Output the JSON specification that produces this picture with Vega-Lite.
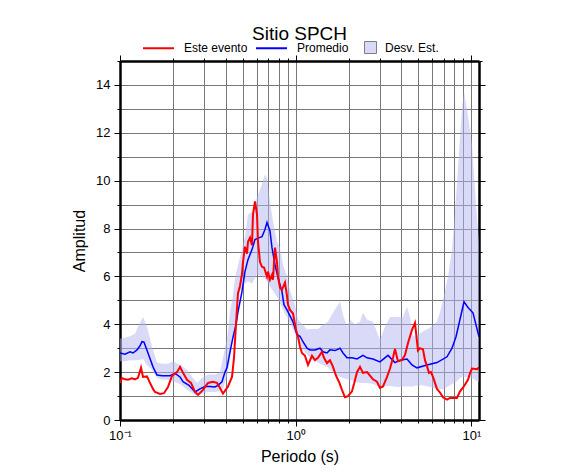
{
  "$schema": "https://vega.github.io/schema/vega-lite/v6.json",
  "width": 359,
  "height": 359,
  "autosize": {"type": "none"},
  "padding": {"left": 120, "top": 61, "right": 107, "bottom": 55},
  "background": "white",
  "title": {"text": "Sitio SPCH", "fontSize": 19, "fontWeight": "normal", "font": "Liberation Sans", "color": "black", "anchor": "middle", "baseline": "alphabetic", "offset": 14, "dy": 41},
  "datasets": {
    "evento": [
      {"periodo": 0.1, "amp": 1.55}, {"periodo": 0.1026, "amp": 1.75}, {"periodo": 0.1068, "amp": 1.7}, {"periodo": 0.111, "amp": 1.68},
      {"periodo": 0.117, "amp": 1.74}, {"periodo": 0.1217, "amp": 1.7}, {"periodo": 0.1266, "amp": 1.76}, {"periodo": 0.1317, "amp": 2.18},
      {"periodo": 0.1352, "amp": 1.8}, {"periodo": 0.1424, "amp": 1.82}, {"periodo": 0.1482, "amp": 1.55}, {"periodo": 0.1541, "amp": 1.3},
      {"periodo": 0.1582, "amp": 1.17}, {"periodo": 0.1689, "amp": 1.09}, {"periodo": 0.1779, "amp": 1.12}, {"periodo": 0.1875, "amp": 1.38},
      {"periodo": 0.1977, "amp": 1.84}, {"periodo": 0.2111, "amp": 2.0}, {"periodo": 0.2196, "amp": 2.22}, {"periodo": 0.2284, "amp": 1.97},
      {"periodo": 0.2406, "amp": 1.68}, {"periodo": 0.2535, "amp": 1.55}, {"periodo": 0.2673, "amp": 1.17}, {"periodo": 0.278, "amp": 1.05},
      {"periodo": 0.2968, "amp": 1.26}, {"periodo": 0.3168, "amp": 1.55}, {"periodo": 0.3382, "amp": 1.6}, {"periodo": 0.3564, "amp": 1.55},
      {"periodo": 0.3708, "amp": 1.34}, {"periodo": 0.3856, "amp": 1.1}, {"periodo": 0.4118, "amp": 1.4}, {"periodo": 0.434, "amp": 1.8},
      {"periodo": 0.4455, "amp": 2.6}, {"periodo": 0.4573, "amp": 4.0}, {"periodo": 0.4695, "amp": 5.3}, {"periodo": 0.4819, "amp": 5.6},
      {"periodo": 0.4947, "amp": 6.1}, {"periodo": 0.5012, "amp": 6.6}, {"periodo": 0.5145, "amp": 7.24}, {"periodo": 0.5282, "amp": 6.95},
      {"periodo": 0.5352, "amp": 7.45}, {"periodo": 0.5494, "amp": 7.62}, {"periodo": 0.564, "amp": 7.3}, {"periodo": 0.5714, "amp": 8.58},
      {"periodo": 0.5866, "amp": 9.13}, {"periodo": 0.6022, "amp": 8.6}, {"periodo": 0.6101, "amp": 7.45}, {"periodo": 0.6263, "amp": 6.6},
      {"periodo": 0.6429, "amp": 6.4}, {"periodo": 0.66, "amp": 6.37}, {"periodo": 0.6865, "amp": 5.99}, {"periodo": 0.6955, "amp": 6.2},
      {"periodo": 0.714, "amp": 5.86}, {"periodo": 0.7329, "amp": 6.06}, {"periodo": 0.7426, "amp": 5.86}, {"periodo": 0.7623, "amp": 7.2},
      {"periodo": 0.7825, "amp": 6.6}, {"periodo": 0.7929, "amp": 6.0}, {"periodo": 0.8139, "amp": 5.53}, {"periodo": 0.8355, "amp": 5.45},
      {"periodo": 0.869, "amp": 5.74}, {"periodo": 0.8921, "amp": 5.2}, {"periodo": 0.9039, "amp": 4.82}, {"periodo": 0.9281, "amp": 4.6},
      {"periodo": 0.9652, "amp": 4.45}, {"periodo": 1.004, "amp": 3.77}, {"periodo": 1.031, "amp": 3.48}, {"periodo": 1.058, "amp": 3.06},
      {"periodo": 1.086, "amp": 2.8}, {"periodo": 1.13, "amp": 2.68}, {"periodo": 1.175, "amp": 2.3}, {"periodo": 1.238, "amp": 2.68},
      {"periodo": 1.288, "amp": 2.5}, {"periodo": 1.339, "amp": 2.6}, {"periodo": 1.411, "amp": 2.85}, {"periodo": 1.449, "amp": 2.6},
      {"periodo": 1.507, "amp": 2.38}, {"periodo": 1.567, "amp": 2.5}, {"periodo": 1.631, "amp": 2.22}, {"periodo": 1.696, "amp": 1.85},
      {"periodo": 1.763, "amp": 1.6}, {"periodo": 1.834, "amp": 1.26}, {"periodo": 1.908, "amp": 0.95}, {"periodo": 1.985, "amp": 1.0},
      {"periodo": 2.091, "amp": 1.2}, {"periodo": 2.147, "amp": 1.5}, {"periodo": 2.233, "amp": 2.0}, {"periodo": 2.323, "amp": 2.22},
      {"periodo": 2.416, "amp": 1.97}, {"periodo": 2.546, "amp": 2.0}, {"periodo": 2.648, "amp": 1.85}, {"periodo": 2.754, "amp": 1.7},
      {"periodo": 2.902, "amp": 1.6}, {"periodo": 3.018, "amp": 1.34}, {"periodo": 3.14, "amp": 1.4}, {"periodo": 3.31, "amp": 1.8},
      {"periodo": 3.442, "amp": 2.15}, {"periodo": 3.58, "amp": 2.6}, {"periodo": 3.675, "amp": 2.97}, {"periodo": 3.822, "amp": 2.45},
      {"periodo": 4.027, "amp": 2.5}, {"periodo": 4.19, "amp": 2.72}, {"periodo": 4.358, "amp": 3.22}, {"periodo": 4.592, "amp": 3.77},
      {"periodo": 4.775, "amp": 4.06}, {"periodo": 4.902, "amp": 3.3}, {"periodo": 4.966, "amp": 2.9}, {"periodo": 5.098, "amp": 3.0},
      {"periodo": 5.303, "amp": 2.95}, {"periodo": 5.443, "amp": 2.5}, {"periodo": 5.588, "amp": 2.25}, {"periodo": 5.736, "amp": 1.97},
      {"periodo": 5.889, "amp": 2.0}, {"periodo": 6.045, "amp": 1.8}, {"periodo": 6.372, "amp": 1.3}, {"periodo": 6.627, "amp": 1.15},
      {"periodo": 6.893, "amp": 0.95}, {"periodo": 7.264, "amp": 0.85}, {"periodo": 7.555, "amp": 0.92}, {"periodo": 7.858, "amp": 0.92},
      {"periodo": 8.279, "amp": 0.92}, {"periodo": 8.611, "amp": 1.2}, {"periodo": 8.959, "amp": 1.35}, {"periodo": 9.566, "amp": 1.68},
      {"periodo": 9.818, "amp": 1.95}, {"periodo": 10.08, "amp": 2.15}, {"periodo": 10.76, "amp": 2.12}, {"periodo": 11.05, "amp": 2.2}
    ],
    "promedio": [
      {"periodo": 0.1, "amp": 2.8}, {"periodo": 0.1068, "amp": 2.75}, {"periodo": 0.114, "amp": 2.85}, {"periodo": 0.1186, "amp": 2.8},
      {"periodo": 0.125, "amp": 2.93}, {"periodo": 0.13, "amp": 3.1}, {"periodo": 0.1334, "amp": 3.27}, {"periodo": 0.137, "amp": 3.25},
      {"periodo": 0.1443, "amp": 2.8}, {"periodo": 0.1541, "amp": 2.22}, {"periodo": 0.1624, "amp": 1.88}, {"periodo": 0.1734, "amp": 1.85},
      {"periodo": 0.1926, "amp": 1.85}, {"periodo": 0.2056, "amp": 1.95}, {"periodo": 0.2196, "amp": 1.8}, {"periodo": 0.2284, "amp": 1.6},
      {"periodo": 0.247, "amp": 1.45}, {"periodo": 0.2673, "amp": 1.17}, {"periodo": 0.2853, "amp": 1.3}, {"periodo": 0.3046, "amp": 1.4},
      {"periodo": 0.3252, "amp": 1.4}, {"periodo": 0.3472, "amp": 1.38}, {"periodo": 0.3612, "amp": 1.45}, {"periodo": 0.3806, "amp": 1.6},
      {"periodo": 0.3959, "amp": 2.0}, {"periodo": 0.4064, "amp": 2.18}, {"periodo": 0.4227, "amp": 2.85}, {"periodo": 0.4396, "amp": 3.45},
      {"periodo": 0.4573, "amp": 3.98}, {"periodo": 0.4695, "amp": 4.52}, {"periodo": 0.4947, "amp": 5.36}, {"periodo": 0.5145, "amp": 6.2},
      {"periodo": 0.5352, "amp": 6.7}, {"periodo": 0.564, "amp": 7.12}, {"periodo": 0.5866, "amp": 7.54}, {"periodo": 0.6101, "amp": 7.6},
      {"periodo": 0.6429, "amp": 7.66}, {"periodo": 0.6687, "amp": 7.96}, {"periodo": 0.6865, "amp": 8.25}, {"periodo": 0.714, "amp": 7.9},
      {"periodo": 0.7329, "amp": 7.2}, {"periodo": 0.7623, "amp": 6.49}, {"periodo": 0.7929, "amp": 5.95}, {"periodo": 0.8355, "amp": 5.36},
      {"periodo": 0.8577, "amp": 4.82}, {"periodo": 0.8921, "amp": 4.6}, {"periodo": 0.9281, "amp": 4.35}, {"periodo": 0.9652, "amp": 4.1},
      {"periodo": 1.017, "amp": 3.56}, {"periodo": 1.058, "amp": 3.5}, {"periodo": 1.1, "amp": 3.27}, {"periodo": 1.16, "amp": 3.0},
      {"periodo": 1.206, "amp": 2.93}, {"periodo": 1.288, "amp": 2.93}, {"periodo": 1.375, "amp": 3.0}, {"periodo": 1.43, "amp": 2.85},
      {"periodo": 1.507, "amp": 2.8}, {"periodo": 1.567, "amp": 2.93}, {"periodo": 1.674, "amp": 2.9}, {"periodo": 1.787, "amp": 3.0},
      {"periodo": 1.859, "amp": 2.8}, {"periodo": 1.959, "amp": 2.6}, {"periodo": 2.091, "amp": 2.6}, {"periodo": 2.233, "amp": 2.55},
      {"periodo": 2.416, "amp": 2.7}, {"periodo": 2.546, "amp": 2.6}, {"periodo": 2.754, "amp": 2.55}, {"periodo": 3.018, "amp": 2.43},
      {"periodo": 3.353, "amp": 2.7}, {"periodo": 3.675, "amp": 2.4}, {"periodo": 3.924, "amp": 2.5}, {"periodo": 4.301, "amp": 2.55},
      {"periodo": 4.592, "amp": 2.3}, {"periodo": 4.902, "amp": 2.18}, {"periodo": 5.588, "amp": 2.3}, {"periodo": 6.372, "amp": 2.4},
      {"periodo": 7.264, "amp": 2.64}, {"periodo": 7.756, "amp": 3.0}, {"periodo": 8.174, "amp": 3.48}, {"periodo": 8.611, "amp": 4.2},
      {"periodo": 9.077, "amp": 4.94}, {"periodo": 9.566, "amp": 4.7}, {"periodo": 10.21, "amp": 4.48}, {"periodo": 11.05, "amp": 3.48}
    ],
    "desv": [
      {"periodo": 0.1, "lo": 2.45, "hi": 3.4}, {"periodo": 0.1068, "lo": 2.45, "hi": 3.45}, {"periodo": 0.114, "lo": 2.5, "hi": 3.5},
      {"periodo": 0.1217, "lo": 2.5, "hi": 3.6}, {"periodo": 0.1266, "lo": 2.5, "hi": 3.9}, {"periodo": 0.1352, "lo": 2.55, "hi": 4.3},
      {"periodo": 0.1424, "lo": 2.3, "hi": 3.9}, {"periodo": 0.1521, "lo": 2.1, "hi": 3.06}, {"periodo": 0.1624, "lo": 1.75, "hi": 2.4},
      {"periodo": 0.1734, "lo": 1.68, "hi": 2.35}, {"periodo": 0.1875, "lo": 1.68, "hi": 2.35}, {"periodo": 0.2003, "lo": 1.62, "hi": 2.45},
      {"periodo": 0.2196, "lo": 1.5, "hi": 2.3}, {"periodo": 0.2406, "lo": 1.26, "hi": 2.1}, {"periodo": 0.2569, "lo": 1.13, "hi": 1.8},
      {"periodo": 0.2744, "lo": 1.0, "hi": 1.55}, {"periodo": 0.2929, "lo": 1.1, "hi": 1.76}, {"periodo": 0.3168, "lo": 1.17, "hi": 1.9},
      {"periodo": 0.3472, "lo": 1.17, "hi": 1.9}, {"periodo": 0.3708, "lo": 1.2, "hi": 2.0}, {"periodo": 0.3856, "lo": 1.3, "hi": 2.6},
      {"periodo": 0.4064, "lo": 1.8, "hi": 3.4}, {"periodo": 0.4227, "lo": 2.5, "hi": 4.5}, {"periodo": 0.4396, "lo": 3.4, "hi": 5.2},
      {"periodo": 0.4513, "lo": 4.0, "hi": 5.9}, {"periodo": 0.4634, "lo": 4.6, "hi": 6.3}, {"periodo": 0.4819, "lo": 5.36, "hi": 6.8},
      {"periodo": 0.5012, "lo": 5.6, "hi": 7.3}, {"periodo": 0.5145, "lo": 5.7, "hi": 7.66}, {"periodo": 0.5352, "lo": 5.8, "hi": 8.58},
      {"periodo": 0.564, "lo": 5.7, "hi": 8.7}, {"periodo": 0.6022, "lo": 6.1, "hi": 9.3}, {"periodo": 0.6429, "lo": 6.0, "hi": 9.84},
      {"periodo": 0.6687, "lo": 5.9, "hi": 10.26}, {"periodo": 0.6865, "lo": 5.8, "hi": 10.1}, {"periodo": 0.714, "lo": 5.57, "hi": 9.13},
      {"periodo": 0.7426, "lo": 5.4, "hi": 8.3}, {"periodo": 0.7825, "lo": 5.15, "hi": 7.45}, {"periodo": 0.8139, "lo": 4.9, "hi": 7.2},
      {"periodo": 0.8465, "lo": 4.6, "hi": 6.5}, {"periodo": 0.8921, "lo": 4.3, "hi": 6.0}, {"periodo": 0.9281, "lo": 4.06, "hi": 5.4},
      {"periodo": 0.9908, "lo": 3.6, "hi": 4.8}, {"periodo": 1.031, "lo": 3.35, "hi": 4.2}, {"periodo": 1.1, "lo": 2.93, "hi": 3.98},
      {"periodo": 1.16, "lo": 2.75, "hi": 3.77}, {"periodo": 1.206, "lo": 2.6, "hi": 3.8}, {"periodo": 1.254, "lo": 2.5, "hi": 3.8},
      {"periodo": 1.339, "lo": 2.4, "hi": 3.8}, {"periodo": 1.43, "lo": 2.3, "hi": 3.98}, {"periodo": 1.527, "lo": 2.2, "hi": 4.1},
      {"periodo": 1.631, "lo": 2.0, "hi": 4.48}, {"periodo": 1.718, "lo": 1.85, "hi": 4.75}, {"periodo": 1.787, "lo": 1.8, "hi": 4.94},
      {"periodo": 1.859, "lo": 1.75, "hi": 4.4}, {"periodo": 1.959, "lo": 1.7, "hi": 3.9}, {"periodo": 2.037, "lo": 1.68, "hi": 4.2},
      {"periodo": 2.175, "lo": 1.6, "hi": 4.0}, {"periodo": 2.323, "lo": 1.55, "hi": 4.1}, {"periodo": 2.416, "lo": 1.55, "hi": 4.48},
      {"periodo": 2.546, "lo": 1.55, "hi": 4.2}, {"periodo": 2.754, "lo": 1.5, "hi": 4.1}, {"periodo": 3.018, "lo": 1.38, "hi": 3.35},
      {"periodo": 3.223, "lo": 1.4, "hi": 3.9}, {"periodo": 3.442, "lo": 1.42, "hi": 4.3}, {"periodo": 3.822, "lo": 1.38, "hi": 4.3},
      {"periodo": 4.081, "lo": 1.4, "hi": 4.3}, {"periodo": 4.301, "lo": 1.4, "hi": 4.73}, {"periodo": 4.473, "lo": 1.4, "hi": 4.3},
      {"periodo": 4.651, "lo": 1.4, "hi": 3.5}, {"periodo": 4.966, "lo": 1.45, "hi": 3.55}, {"periodo": 5.303, "lo": 1.45, "hi": 3.7},
      {"periodo": 5.812, "lo": 1.38, "hi": 3.85}, {"periodo": 6.372, "lo": 1.3, "hi": 4.1}, {"periodo": 6.627, "lo": 1.28, "hi": 4.5},
      {"periodo": 6.893, "lo": 1.3, "hi": 5.0}, {"periodo": 7.36, "lo": 1.4, "hi": 6.0}, {"periodo": 7.756, "lo": 1.5, "hi": 7.1},
      {"periodo": 8.066, "lo": 1.55, "hi": 8.7}, {"periodo": 8.389, "lo": 1.65, "hi": 10.5}, {"periodo": 8.611, "lo": 1.76, "hi": 11.8},
      {"periodo": 8.842, "lo": 1.8, "hi": 13.0}, {"periodo": 9.077, "lo": 1.8, "hi": 13.7}, {"periodo": 9.441, "lo": 1.8, "hi": 13.0},
      {"periodo": 10.08, "lo": 1.75, "hi": 11.5}, {"periodo": 10.62, "lo": 1.65, "hi": 9.0}, {"periodo": 11.05, "lo": 1.6, "hi": 7.4}
    ]
  },
  "layer": [
    {
      "data": {"name": "desv"},
      "mark": {"type": "area", "opacity": 0.5},
      "encoding": {
        "x": {
          "field": "periodo", "type": "quantitative",
          "scale": {"type": "log", "domain": [0.1, 11.05], "nice": false},
          "axis": {
            "orient": "bottom",
            "values": [0.1, 0.2, 0.3, 0.4, 0.5, 0.6, 0.7, 0.8, 0.9, 1, 2, 3, 4, 5, 6, 7, 8, 9, 10],
            "labelExpr": "datum.value == 0.1 ? '10⁻¹' : datum.value == 1 ? '10⁰' : datum.value == 10 ? '10¹' : ''",
            "labelFlush": false, "labelOverlap": false,
            "grid": true, "gridColor": "#777777", "gridWidth": 1,
            "domainColor": "black", "domainWidth": 2.5,
            "tickColor": "black", "tickWidth": 1,
            "tickSize": {"condition": {"test": "datum.value == 0.1 || datum.value == 1 || datum.value == 10", "value": 6}, "value": 3},
            "labelFont": "Liberation Sans", "labelFontSize": 13, "labelColor": "black", "labelPadding": 3,
            "title": "Periodo (s)", "titleFont": "Liberation Sans", "titleFontSize": 16, "titleFontWeight": "normal", "titleColor": "black", "titlePadding": 6
          }
        },
        "y": {
          "field": "lo", "type": "quantitative",
          "scale": {"domain": [0, 15], "nice": false, "zero": true},
          "axis": {
            "orient": "left",
            "values": [0, 1, 2, 3, 4, 5, 6, 7, 8, 9, 10, 11, 12, 13, 14, 15],
            "labelExpr": "datum.value % 2 === 0 && datum.value < 15 ? datum.label : ''",
            "labelOverlap": false, "labelFlush": false,
            "grid": true, "gridColor": "#777777", "gridWidth": 1,
            "domainColor": "black", "domainWidth": 2.5,
            "tickColor": "black", "tickWidth": 1,
            "tickSize": {"condition": {"test": "datum.value % 2 === 0", "value": 6}, "value": 3},
            "labelFont": "Liberation Sans", "labelFontSize": 13, "labelColor": "black", "labelPadding": 4,
            "title": "Amplitud", "titleFont": "Liberation Sans", "titleFontSize": 16, "titleFontWeight": "normal", "titleColor": "black", "titlePadding": 8
          }
        },
        "y2": {"field": "hi"},
        "fill": {
          "datum": "Desv. Est.",
          "scale": {"domain": ["Desv. Est."], "range": ["#b3b3f2"]},
          "legend": {
            "orient": "none", "legendX": 244, "legendY": -20, "direction": "horizontal", "title": null, "padding": 0,
            "symbolType": "square", "symbolSize": 144, "symbolStrokeColor": "black", "symbolStrokeWidth": 1,
            "labelFont": "Liberation Sans", "labelFontSize": 12, "labelColor": "black", "labelOffset": 8,
            "encode": {"symbols": {"update": {"fill": {"value": "#d9d9f8"}, "stroke": {"value": "black"}, "opacity": {"value": 1}, "fillOpacity": {"value": 1}, "strokeOpacity": {"value": 1}}}}
          }
        }
      }
    },
    {
      "data": {"name": "promedio"},
      "mark": {"type": "line", "strokeWidth": 1.5, "clip": true},
      "encoding": {
        "x": {
          "field": "periodo", "type": "quantitative",
          "scale": {"type": "log", "domain": [0.1, 11.05], "nice": false},
          "axis": {
            "orient": "top",
            "values": [0.1, 0.2, 0.3, 0.4, 0.5, 0.6, 0.7, 0.8, 0.9, 1, 2, 3, 4, 5, 6, 7, 8, 9, 10],
            "labels": false, "grid": false, "title": null,
            "domainColor": "black", "domainWidth": 2.5,
            "tickColor": "black", "tickWidth": 1,
            "tickSize": {"condition": {"test": "datum.value == 0.1 || datum.value == 1 || datum.value == 10", "value": 6}, "value": 3}
          }
        },
        "y": {
          "field": "amp", "type": "quantitative",
          "scale": {"domain": [0, 15], "nice": false, "zero": true},
          "axis": {
            "orient": "right",
            "values": [0, 1, 2, 3, 4, 5, 6, 7, 8, 9, 10, 11, 12, 13, 14, 15],
            "labels": false, "grid": false, "title": null,
            "domainColor": "black", "domainWidth": 2.5,
            "tickColor": "black", "tickWidth": 1,
            "tickSize": {"condition": {"test": "datum.value % 2 === 0", "value": 6}, "value": 3}
          }
        },
        "color": {
          "datum": "Promedio",
          "scale": {"domain": ["Este evento", "Promedio"], "range": ["#ff0000", "#0000ff"]},
          "legend": {
            "orient": "none", "legendX": 22, "legendY": -29.5, "direction": "horizontal", "title": null, "padding": 0,
            "symbolType": "stroke", "symbolSize": 961, "symbolStrokeWidth": 2,
            "labelFont": "Liberation Sans", "labelFontSize": 12, "labelColor": "black", "labelOffset": 9, "columnPadding": 4
          }
        }
      }
    },
    {
      "data": {"name": "evento"},
      "mark": {"type": "line", "strokeWidth": 2, "clip": true},
      "encoding": {
        "x": {"field": "periodo", "type": "quantitative", "scale": {"type": "log", "domain": [0.1, 11.05], "nice": false}, "axis": null},
        "y": {"field": "amp", "type": "quantitative", "scale": {"domain": [0, 15], "nice": false, "zero": true}, "axis": null},
        "color": {"datum": "Este evento"}
      }
    }
  ],
  "resolve": {"axis": {"x": "independent", "y": "independent"}},
  "config": {"view": {"stroke": null}, "font": "Liberation Sans"}
}
